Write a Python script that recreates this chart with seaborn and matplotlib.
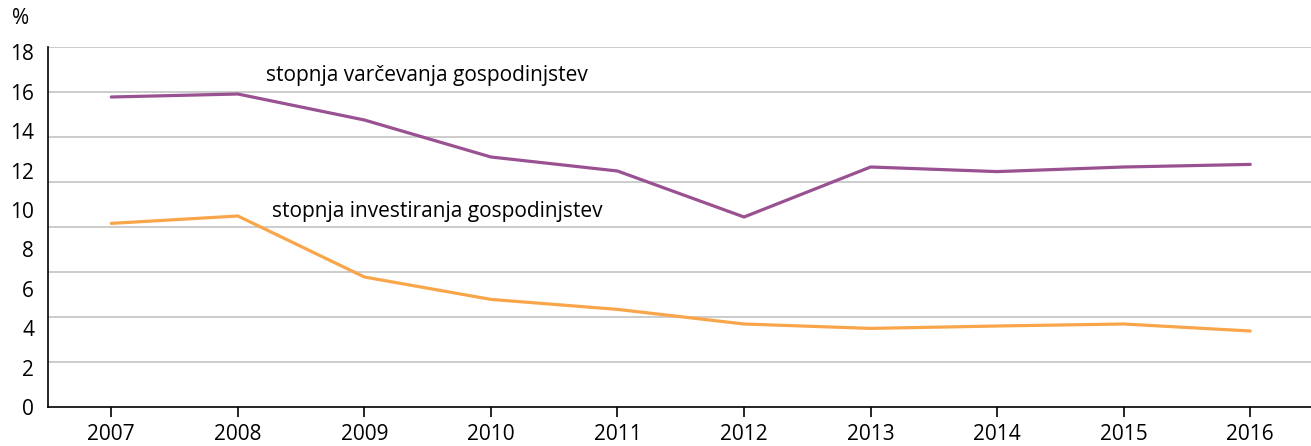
import numpy as np
import pandas as pd
import matplotlib
matplotlib.use("Agg")
import matplotlib.pyplot as plt
import seaborn as sns

years = [2007, 2008, 2009, 2010, 2011, 2012, 2013, 2014, 2015, 2016]
savings = [15.5, 15.65, 14.35, 12.5, 11.8, 9.5, 12.0, 11.77, 12.0, 12.13]
investment = [9.18, 9.55, 6.5, 5.38, 4.88, 4.15, 3.93, 4.05, 4.15, 3.8]
series_names = ["stopnja varčevanja gospodinjstev", "stopnja investiranja gospodinjstev"]
ytick_labels = ["0", "2", "4", "6", "8", "10", "12", "14", "16", "18"]

sns.set_theme(style="white")
plt.rcParams["font.family"] = ["Open Sans", "DejaVu Sans"]

df = pd.DataFrame({
    "leto": years * 2,
    "vrednost": savings + investment,
    "serija": [series_names[0]] * len(years) + [series_names[1]] * len(years),
})

fig = plt.figure(figsize=(13.11, 4.46), dpi=100)
ax = fig.add_axes([48 / 1311, 1 - 407 / 446, 1 - 48 / 1311, (407 - 47) / 446])

palette = {series_names[0]: "#9a5192", series_names[1]: "#f9a64a"}
sns.lineplot(data=df, x="leto", y="vrednost", hue="serija", palette=palette,
             linewidth=2.3, legend=False, ax=ax)

ax.set_xlim(2006.5, 2016.48)
ax.set_ylim(0, 18)
ax.set_xlabel("")
ax.set_ylabel("")

# gridlines (as in the reference, 8 equal intervals)
ax.set_yticks(np.arange(0, 18.01, 2.25), minor=True)
ax.yaxis.grid(True, which="minor", color="#c4c4c4", linewidth=1.2)
ax.yaxis.grid(False, which="major")
ax.set_yticks(np.arange(10) * 1.97)
ax.set_yticklabels(ytick_labels)
ax.tick_params(axis="y", which="both", length=0, pad=10, labelsize=15, colors="black")

ax.set_xticks(years)
ax.set_xticklabels([str(y) for y in years])
ax.tick_params(axis="x", which="major", length=7, width=1.2, direction="out",
               color="black", pad=5, labelsize=15, labelcolor="black", bottom=True)

for s in ["top", "right"]:
    ax.spines[s].set_visible(False)
for s in ["left", "bottom"]:
    ax.spines[s].set_color("black")
    ax.spines[s].set_linewidth(1.2)

ax.text(2008.22, 16.6, series_names[0], fontsize=15, color="black", va="center", ha="left")
ax.text(2008.27, 9.75, series_names[1], fontsize=15, color="black", va="center", ha="left")

fig.text(21 / 1311, 1 - 18 / 446, "%", fontsize=15, color="black", va="center", ha="center")

fig.savefig("out.png", dpi=100)
